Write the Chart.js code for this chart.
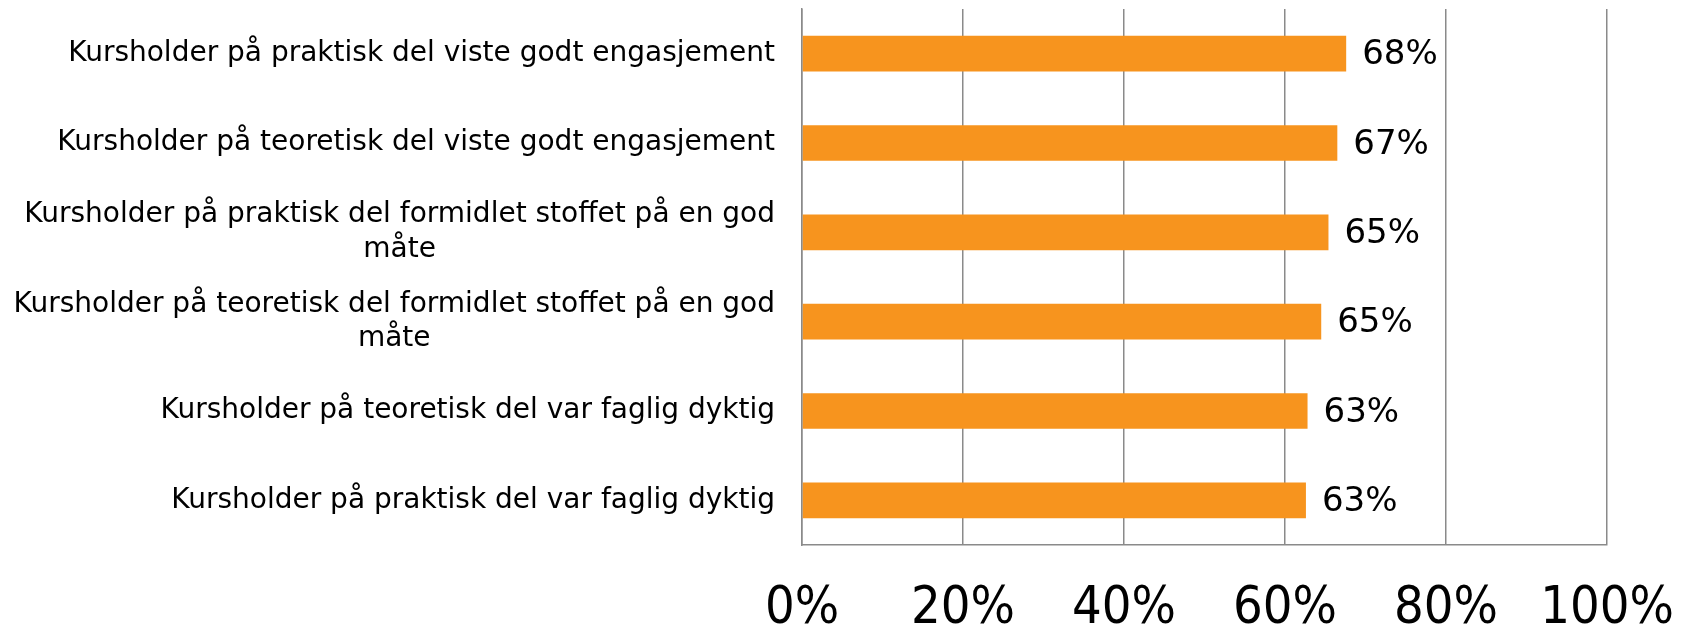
<!DOCTYPE html>
<html>
<head>
<meta charset="utf-8">
<script src="https://cdn.jsdelivr.net/npm/chart.js@4/dist/chart.umd.min.js"></script>
<style>
  html, body { margin: 0; padding: 0; background: #fff; }
  #c { display: block; }
</style>
</head>
<body>
<canvas id="c" width="1692" height="627"></canvas>
<script>
'use strict';

/* data */
const categories = [
    ['Kursholder på praktisk del viste godt engasjement'],
    ['Kursholder på teoretisk del viste godt engasjement'],
    ['Kursholder på praktisk del formidlet stoffet på en god', 'måte'],
    ['Kursholder på teoretisk del formidlet stoffet på en god', 'måte'],
    ['Kursholder på teoretisk del var faglig dyktig'],
    ['Kursholder på praktisk del var faglig dyktig']
];
const values = [67.6, 66.5, 65.4, 64.5, 62.8, 62.6];
const tickValues = [0, 20, 40, 60, 80, 100];

const FONT = "'DejaVu Sans', Verdana, sans-serif";
const FONT_TICKS = "'DejaVu Sans Condensed', 'DejaVu Sans', sans-serif";
const ORANGE = '#F7941E';
const GRID = '#8a8a8a';

/* category labels: block right-aligned, lines centred inside the block */
const catLabels = {
    id: 'catLabels',
    afterDraw(chart) {
        const ctx = chart.ctx, ys = chart.scales.y;
        const right = ys.right - 27;
        ctx.save();
        ctx.font = '28px ' + FONT;
        ctx.fillStyle = '#000';
        ctx.textAlign = 'center';
        ctx.textBaseline = 'middle';
        categories.forEach((lines, i) => {
            const y = ys.getPixelForValue(i);
            const w = Math.max(...lines.map(l => ctx.measureText(l).width));
            const cx = right - w / 2;
            lines.forEach((l, j) => {
                ctx.fillText(l, cx, y + (j - (lines.length - 1) / 2) * 34.5);
            });
        });
        ctx.restore();
    }
};

/* value labels after each bar */
const valueLabels = {
    id: 'valueLabels',
    afterDatasetsDraw(chart) {
        const ctx = chart.ctx;
        ctx.save();
        ctx.font = '34px ' + FONT;
        ctx.fillStyle = '#000';
        ctx.textAlign = 'left';
        ctx.textBaseline = 'middle';
        chart.getDatasetMeta(0).data.forEach((bar, i) => {
            ctx.fillText(Math.round(values[i]) + '%', bar.x + 16, bar.y + 2);
        });
        ctx.restore();
    }
};

new Chart(document.getElementById('c'), {
    type: 'bar',
    data: {
        labels: categories.map(l => l.join(' ')),
        datasets: [{
            data: values,
            backgroundColor: ORANGE,
            borderWidth: 0,
            categoryPercentage: 1,
            barPercentage: 0.4
        }]
    },
    options: {
        indexAxis: 'y',
        responsive: false,
        animation: false,
        layout: { padding: { top: 9, right: 85, left: 0, bottom: 0 } },
        plugins: { legend: { display: false }, tooltip: { enabled: false } },
        scales: {
            x: {
                min: 0, max: 100,
                afterBuildTicks: s => { s.ticks = tickValues.map(v => ({ value: v })); },
                afterFit: s => { s.height = 82; s.paddingLeft = 0; s.paddingRight = 0; },
                grid: { color: GRID, lineWidth: 1.5, drawTicks: false },
                border: { color: GRID, width: 1.5 },
                ticks: {
                    padding: 33,
                    color: '#000',
                    font: { family: FONT_TICKS, size: 52 },
                    callback: v => v + '%'
                }
            },
            y: {
                afterFit: s => { s.width = 802; },
                grid: { display: false },
                border: { color: GRID, width: 1.5 },
                ticks: { display: false }
            }
        }
    },
    plugins: [catLabels, valueLabels]
});
</script>
</body>
</html>
